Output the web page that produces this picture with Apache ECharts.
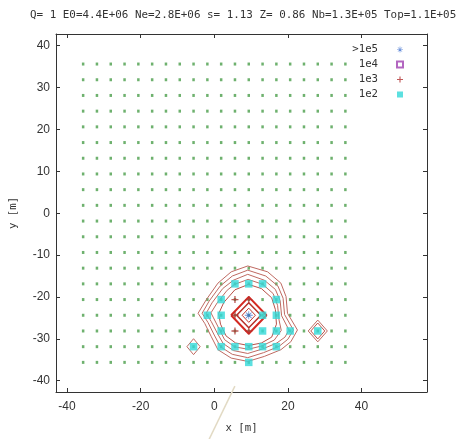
<!DOCTYPE html>
<html><head><meta charset="utf-8">
<script src="https://cdn.jsdelivr.net/npm/echarts@6/dist/echarts.min.js"></script>
<style>html,body{margin:0;padding:0;background:#fff}#c{width:457px;height:439px}</style>
</head><body><div id="c"></div>
<script>
// ---- data ----
const titleText = 'Q= 1 E0=4.4E+06 Ne=2.8E+06 s= 1.13 Z= 0.86 Nb=1.3E+05 Top=1.1E+05';
const xTicks = [-40, -20, 0, 20, 40];
const yTicks = [-40, -30, -20, -10, 0, 10, 20, 30, 40];
const detX = [-35.625,-31.875,-28.125,-24.375,-20.625,-16.875,-13.125,-9.375,-5.625,-1.875,1.875,5.625,9.375,13.125,16.875,20.625,24.375,28.125,31.875,35.625];
const detY = [-35.625,-31.875,-28.125,-24.375,-20.625,-16.875,-13.125,-9.375,-5.625,-1.875,1.875,5.625,9.375,13.125,16.875,20.625,24.375,28.125,31.875,35.625];
const pts1e5 = [[9.375,-24.375]];
const pts1e4 = [];
const pts1e3 = [[5.625,-20.625],[9.375,-20.625],[5.625,-24.375],[5.625,-28.125],[9.375,-28.125]];
const pts1e2 = [[5.625,-16.875],[9.375,-16.875],[13.125,-16.875],
  [1.875,-20.625],[16.875,-20.625],
  [-1.875,-24.375],[1.875,-24.375],[13.125,-24.375],[16.875,-24.375],
  [1.875,-28.125],[13.125,-28.125],[16.875,-28.125],[20.625,-28.125],[28.125,-28.125],
  [-5.625,-31.875],[1.875,-31.875],[5.625,-31.875],[9.375,-31.875],[13.125,-31.875],[16.875,-31.875],
  [9.375,-35.625]];
const contour1 = [[9.1,-12.6],[14.5,-14.0],[18.1,-16.7],[19.5,-19.9],[19.9,-23.9],[22.6,-27.9],[20.8,-30.7],[18.1,-32.6],[13.6,-34.2],[9.1,-35.4],[4.6,-34.6],[1.0,-32.6],[-0.8,-29.5],[-2.6,-26.3],[-4.4,-23.9],[-2.2,-20.7],[1.0,-16.7],[4.6,-14.0],[9.1,-12.6]];
const contour2 = [[9.1,-13.6],[14.0,-15.0],[17.3,-17.4],[18.7,-20.3],[19.1,-24.2],[21.5,-27.9],[20.0,-30.1],[17.6,-31.8],[13.4,-33.3],[9.1,-34.5],[4.9,-33.7],[1.7,-31.9],[0.0,-29.1],[-1.7,-26.1],[-3.3,-23.9],[-1.4,-21.0],[1.6,-17.4],[4.9,-15.0],[9.1,-13.6]];
const contour3 = [[9.1,-14.6],[13.6,-16.0],[16.6,-18.2],[17.9,-20.9],[18.3,-24.5],[20.3,-27.9],[19.2,-29.6],[17.0,-31.0],[13.2,-32.4],[9.1,-33.5],[5.2,-32.8],[2.4,-31.1],[0.8,-28.6],[-0.8,-25.9],[-2.2,-23.9],[-0.6,-21.4],[2.3,-18.0],[5.2,-16.0],[9.1,-14.6]];
const contour4 = [[9.2,-15.8],[13.2,-17.0],[16.0,-19.2],[17.2,-22.0],[17.6,-25.5],[18.2,-28.0],[16.3,-30.3],[12.9,-31.7],[9.2,-32.5],[5.5,-31.9],[2.8,-30.2],[1.3,-27.6],[-0.2,-25.0],[-0.9,-23.8],[0.8,-21.4],[3.5,-18.4],[5.5,-17.0],[9.2,-15.8]];
const contour5 = [[9.3,-17.0],[12.8,-18.0],[15.6,-20.2],[16.6,-23.0],[16.9,-26.5],[15.6,-29.6],[12.8,-31.0],[9.3,-31.6],[5.8,-31.0],[3.2,-29.3],[1.7,-26.5],[1.2,-24.0],[2.6,-21.3],[5.6,-18.3],[9.3,-17.0]];
const diamondA = [[4.575,-24.375],[9.375,-19.975],[14.175,-24.375],[9.375,-28.775],[4.575,-24.375]];
const diamondB = [[6.075,-24.375],[9.375,-21.375],[12.675,-24.375],[9.375,-27.375],[6.075,-24.375]];
const diamondC = [[7.575,-24.375],[9.375,-22.675],[11.175,-24.375],[9.375,-26.075],[7.575,-24.375]];
const diamondL = [[-7.425,-31.875],[-5.625,-29.975],[-3.825,-31.875],[-5.625,-33.775],[-7.425,-31.875]];
const diamondR1 = [[25.525,-28.125],[28.125,-25.525],[30.725,-28.125],[28.125,-30.725],[25.525,-28.125]];
const diamondR2 = [[26.225,-28.125],[28.125,-26.225],[30.025,-28.125],[28.125,-30.025],[26.225,-28.125]];
const axisLineData = [[5.6,-41.3],[-2.5,-56.0]];

// ---- chart ----
const detectors = [];
detY.forEach(y => detX.forEach(x => detectors.push([x, y])));
const mono = 'DejaVu Sans Mono';
const sans = 'Liberation Sans';
const starPath = 'path://M4.5,0h1v10h-1z M0,4.5h10v1h-10z M1.1,1.8l0.7,-0.7l7.1,7.1l-0.7,0.7z M8.2,1.1l0.7,0.7l-7.1,7.1l-0.7,-0.7z';
const plusPath = 'path://M3,0h1.4v7.4h-1.4z M0,3h7.4v1.4h-7.4z';
function lineSeries(data, color, width) {
  return {type:'line', data, symbol:'none', silent:true, lineStyle:{color, width}, z:3, animation:false};
}
const chart = echarts.init(document.getElementById('c'), null, {renderer:'canvas'});
const axisCommon = {
  axisLine:{show:true, onZero:false, lineStyle:{color:'#333', width:1}},
  axisTick:{show:true, inside:true, length:4, lineStyle:{color:'#333'}},
  splitLine:{show:false}
};
const brown = '#bf6a62';
chart.setOption({
  animation:false,
  backgroundColor:'#fff',
  title:{text:titleText, left:25, top:5, textStyle:{fontFamily:mono, fontSize:10.9, fontWeight:'normal', color:'#333'}},
  grid:{left:54, top:34, right:30, bottom:47},
  legend:{
    orient:'vertical', right:48, top:38, align:'right',
    itemWidth:6, itemHeight:6, itemGap:2,
    textStyle:{fontFamily:mono, fontSize:10.7, color:'#333', padding:[0,14,0,0], lineHeight:13},
    data:['>1e5','1e4','1e3','1e2']
  },
  xAxis:[
    Object.assign({type:'value', min:-43, max:57.8, position:'bottom',
      name:'x [m]', nameLocation:'middle', nameGap:31,
      nameTextStyle:{fontFamily:mono, fontSize:10.7, color:'#333'},
      axisLabel:{customValues:xTicks, fontFamily:sans, fontSize:12, color:'#333', margin:9}}, axisCommon,
      {axisTick:Object.assign({}, axisCommon.axisTick, {customValues:xTicks})}),
    Object.assign({type:'value', min:-43, max:57.8, position:'top',
      axisLabel:{show:false}}, axisCommon,
      {axisTick:Object.assign({}, axisCommon.axisTick, {customValues:xTicks})})
  ],
  yAxis:[
    Object.assign({type:'value', min:-42.7, max:42.8, position:'left',
      name:'y [m]', nameLocation:'middle', nameGap:37,
      nameTextStyle:{fontFamily:mono, fontSize:10.7, color:'#333'},
      axisLabel:{customValues:yTicks, fontFamily:sans, fontSize:12, color:'#333', margin:6}}, axisCommon,
      {axisTick:Object.assign({}, axisCommon.axisTick, {customValues:yTicks})}),
    Object.assign({type:'value', min:-42.7, max:42.8, position:'right',
      axisLabel:{show:false}}, axisCommon,
      {axisTick:Object.assign({}, axisCommon.axisTick, {customValues:yTicks})})
  ],
  series:[
    {type:'scatter', name:'det', data:detectors, symbol:'rect', symbolSize:[2.5,3], itemStyle:{color:'#4a9e4a'}, silent:true, z:2},
    lineSeries(contour1, brown, 1),
    lineSeries(contour2, brown, 1),
    lineSeries(contour3, brown, 1),
    lineSeries(contour4, brown, 1),
    lineSeries(contour5, '#b85048', 1),
    lineSeries(diamondL, brown, 1),
    lineSeries(diamondR1, brown, 1),
    lineSeries(diamondR2, '#c05048', 1),
    lineSeries(diamondA, '#d42a22', 2),
    lineSeries(diamondB, '#b83028', 1.5),
    lineSeries(diamondC, '#c03a30', 1),
    Object.assign(lineSeries(axisLineData, '#e2dac4', 1.5), {clip:false}),
    {type:'scatter', name:'1e2', data:pts1e2, symbol:'rect', symbolSize:7.5, itemStyle:{color:'#33d8d8'}, z:4},
    {type:'scatter', name:'1e3', data:pts1e3, symbol:plusPath, symbolSize:7, itemStyle:{color:'#b03030'}, z:5},
    {type:'scatter', name:'1e4', data:pts1e4, symbol:'emptyRect', symbolSize:6, itemStyle:{color:'#a040b0', borderColor:'#a040b0', borderWidth:1}, z:5},
    {type:'scatter', name:'>1e5', data:pts1e5, symbol:starPath, symbolSize:8, itemStyle:{color:'#3c6fd0'}, z:6}
  ]
});
</script></body></html>
